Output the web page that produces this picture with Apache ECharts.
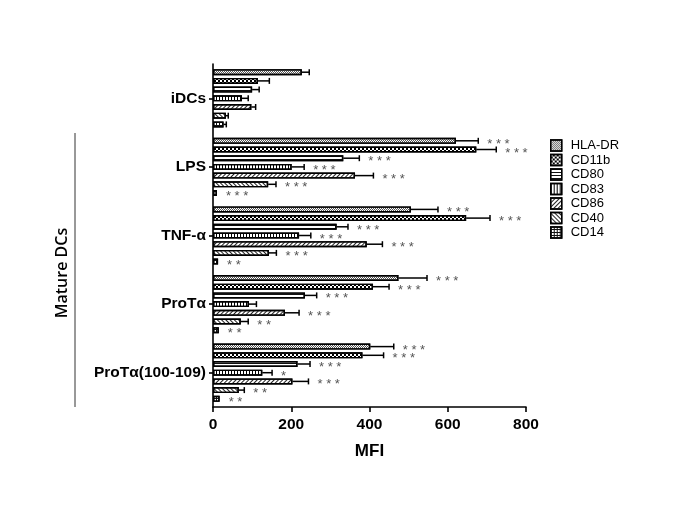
<!DOCTYPE html>
<html><head><meta charset="utf-8">
<script src="https://cdn.jsdelivr.net/npm/echarts@6/dist/echarts.min.js"></script>
<style>html,body{margin:0;padding:0;background:#fff}#c{width:685px;height:513px}</style>
</head><body><div id="c"></div>
<script>
var categories = ['iDCs', 'LPS', 'TNF-α', 'ProTα', 'ProTα(100-109)'];
var markers = ['HLA-DR', 'CD11b', 'CD80', 'CD83', 'CD86', 'CD40', 'CD14'];
var xTicks = [0, 200, 400, 600, 800];

var hlaDR = [227, 621, 506, 474, 402];
var hlaDRErr = [19, 57, 69, 73, 60];
var hlaDRSig = ['', '***', '***', '***', '***'];

var cd11b = [115, 673, 647, 409, 382];
var cd11bErr = [29, 51, 61, 41, 54];
var cd11bSig = ['', '***', '***', '***', '***'];

var cd80 = [100, 333, 316, 235, 216];
var cd80Err = [18, 41, 29, 30, 32];
var cd80Sig = ['', '***', '***', '***', '***'];

var cd83 = [74, 201, 220, 92, 126];
var cd83Err = [16, 32, 30, 19, 25];
var cd83Sig = ['', '***', '***', '', '*'];

var cd86 = [98, 363, 393, 184, 203];
var cd86Err = [11, 47, 40, 36, 41];
var cd86Sig = ['', '***', '***', '***', '***'];

var cd40 = [33, 141, 143, 71, 66];
var cd40Err = [6, 20, 19, 19, 14];
var cd40Sig = ['', '***', '***', '**', '**'];

var cd14 = [27, 10, 13, 15, 17];
var cd14Err = [7, 0, 0, 0, 0];
var cd14Sig = ['', '***', '**', '**', '**'];

var values = [hlaDR, cd11b, cd80, cd83, cd86, cd40, cd14];
var errors = [hlaDRErr, cd11bErr, cd80Err, cd83Err, cd86Err, cd40Err, cd14Err];
var sigs = [hlaDRSig, cd11bSig, cd80Sig, cd83Sig, cd86Sig, cd40Sig, cd14Sig];

var BAR_W = 6, BAR_GAP = 0.45;
var PITCH = BAR_W * (1 + BAR_GAP);
var FONT = '"Liberation Sans", Arial, sans-serif';

var decals = [
  {symbol: 'rect', symbolSize: 1, color: '#555', dashArrayX: [[1, 1], [0, 1, 1, 0]], dashArrayY: [1, 0]},
  {symbol: 'rect', symbolSize: 1, color: '#000', dashArrayX: [[2, 2], [0, 2, 2, 0]], dashArrayY: [2, 0]},
  {symbol: 'rect', symbolSize: 1, color: '#111', dashArrayX: [1, 0], dashArrayY: [1, 2]},
  {symbol: 'rect', symbolSize: 1, color: '#000', dashArrayX: [1, 2], dashArrayY: [1, 0]},
  {symbol: 'rect', symbolSize: 1, color: '#222', dashArrayX: [1, 0], dashArrayY: [1, 2], rotation: -Math.PI / 4},
  {symbol: 'rect', symbolSize: 1, color: '#222', dashArrayX: [1, 0], dashArrayY: [1, 1.5], rotation: Math.PI / 4},
  {symbol: 'rect', symbolSize: 1, color: '#111', dashArrayX: [[1, 0], [1, 2], [1, 2]], dashArrayY: [1, 0]}
];

var series = [];
markers.forEach(function (m, i) {
  series.push({
    name: m, type: 'bar', data: values[i],
    barWidth: BAR_W, barGap: (BAR_GAP * 100) + '%',
    itemStyle: {color: '#fff', borderColor: '#000', borderWidth: 1.4, decal: decals[i]},
    emphasis: {disabled: true}, silent: true
  });
});
markers.forEach(function (m, i) {
  var data = values[i].map(function (v, c) { return [v, c, errors[i][c]]; });
  series.push({
    type: 'custom', silent: true, z: 5,
    data: data,
    renderItem: function (params, api) {
      var v = api.value(0), c = api.value(1), e = api.value(2);
      var p0 = api.coord([v, c]);
      var p1 = api.coord([v + e, c]);
      var y = p0[1] + (i - 3) * PITCH;
      var children = [];
      if (e > 0) {
        children.push({type: 'line', shape: {x1: p0[0], y1: y, x2: p1[0], y2: y}, style: {stroke: '#000', lineWidth: 1.5}});
        children.push({type: 'line', shape: {x1: p1[0], y1: y - 3, x2: p1[0], y2: y + 3}, style: {stroke: '#000', lineWidth: 1.5}});
      }
      var s = sigs[i][c];
      if (s) {
        children.push({type: 'text', style: {x: p1[0] + 9, y: y + 3.5, text: s.split('').join(' '), fill: '#555',
          font: '13px ' + FONT, verticalAlign: 'middle', align: 'left'}});
      }
      return {type: 'group', children: children};
    }
  });
});

var chart = echarts.init(document.getElementById('c'), null, {renderer: 'canvas'});
chart.setOption({
  animation: false,
  backgroundColor: '#fff',
  grid: {left: 213, right: 159, top: 64, bottom: 106, containLabel: false},
  legend: {
    orient: 'vertical', left: 550, top: 139, padding: 0, itemWidth: 11, itemHeight: 11, itemGap: 1.5,
    icon: 'rect', data: markers, selectedMode: false,
    textStyle: {fontFamily: FONT, fontSize: 13, lineHeight: 12, color: '#000', padding: [0, 0, 0, 4]},
    itemStyle: {borderColor: '#000', borderWidth: 1.4}
  },
  xAxis: {
    type: 'value', min: 0, max: 800, interval: 200,
    name: 'MFI', nameLocation: 'middle', nameGap: 36,
    nameTextStyle: {fontFamily: FONT, fontSize: 17, fontWeight: 'bold', color: '#000'},
    axisLine: {show: true, lineStyle: {color: '#000', width: 1.6}},
    axisTick: {show: true, length: 5, lineStyle: {color: '#000', width: 1.6}},
    axisLabel: {fontFamily: FONT, fontSize: 15.5, fontWeight: 'bold', color: '#000', margin: 10,
      formatter: function (v) { return xTicks.indexOf(v) >= 0 ? String(v) : ''; }},
    splitLine: {show: false}
  },
  yAxis: {
    type: 'category', data: categories, inverse: true,
    axisLine: {show: true, lineStyle: {color: '#000', width: 1.6}},
    axisTick: {show: true, alignWithLabel: true, length: 4, lineStyle: {color: '#000', width: 1.6}},
    axisLabel: {fontFamily: FONT, fontSize: 15.5, fontWeight: 'bold', color: '#000', margin: 7},
    splitLine: {show: false}
  },
  graphic: [
    {type: 'line', shape: {x1: 75, y1: 133, x2: 75, y2: 407}, style: {stroke: '#333', lineWidth: 1}},
    {type: 'text', x: 62, y: 273, rotation: Math.PI / 2,
      style: {text: 'Mature DCs', font: '600 16px "Open Sans", sans-serif', fill: '#000', align: 'center', verticalAlign: 'middle'}}
  ],
  series: series
});
</script></body></html>
